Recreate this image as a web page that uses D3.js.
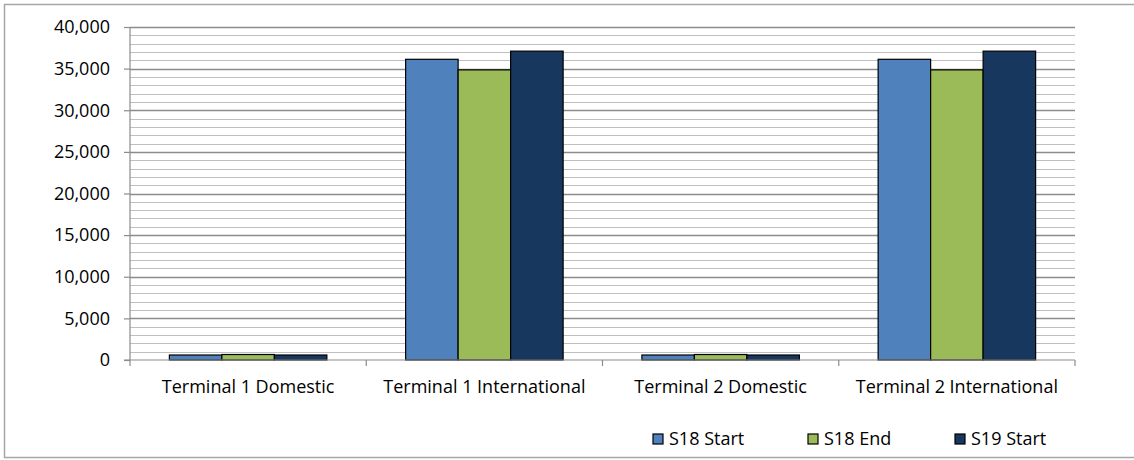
<!DOCTYPE html>
<html>
<head>
<meta charset="utf-8">
<script src="https://cdn.jsdelivr.net/npm/d3@7"></script>
<style>
  body { margin: 0; background: #fff; }
  text { font-family: "Open Sans", sans-serif; fill: #000; }
</style>
</head>
<body>
<div id="chart"></div>
<script>
let categories = ["Terminal 1 Domestic", "Terminal 1 International", "Terminal 2 Domestic", "Terminal 2 International"];
let seriesNames = ["S18 Start", "S18 End", "S19 Start"];
let s18Start = [600, 36120, 600, 36120];
let s18End = [660, 34850, 660, 34850];
let s19Start = [600, 37100, 600, 37100];
let yTicks = [0, 5000, 10000, 15000, 20000, 25000, 30000, 35000, 40000];
let colors = ["#4f81bd", "#9bbb59", "#17375e"];

let width = 1134, height = 460;
let plot = { left: 130, right: 1075, top: 27, bottom: 360 };

let svg = d3.select("#chart").append("svg")
    .attr("width", width)
    .attr("height", height);

// outer chart frame (partly off-page on the right)
svg.append("rect")
    .attr("x", 4.5).attr("y", 4.5)
    .attr("width", 1140).attr("height", 453)
    .attr("fill", "none")
    .attr("stroke", "#a6a6a6")
    .attr("stroke-width", 1.5);

let y = d3.scaleLinear().domain([0, 40000]).range([plot.bottom, plot.top]);
let x0 = d3.scaleBand().domain(categories).range([plot.left, plot.right]);
let x1 = d3.scaleBand().domain(seriesNames)
    .range([0, x0.bandwidth()])
    .paddingOuter(0.75);

// minor grid every 1000
let grid = svg.append("g").attr("class", "grid");
grid.selectAll("line.minor")
    .data(d3.range(1000, 40001, 1000).filter(d => d % 5000 !== 0))
    .enter().append("line")
    .attr("x1", plot.left).attr("x2", plot.right)
    .attr("y1", d => Math.round(y(d)) + 0.5).attr("y2", d => Math.round(y(d)) + 0.5)
    .attr("stroke", "#bfbfbf").attr("stroke-width", 1.2);
grid.selectAll("line.major")
    .data(yTicks.filter(d => d > 0))
    .enter().append("line")
    .attr("x1", plot.left).attr("x2", plot.right)
    .attr("y1", d => Math.round(y(d)) + 0.5).attr("y2", d => Math.round(y(d)) + 0.5)
    .attr("stroke", "#8c8c8c").attr("stroke-width", 1.4);

// y axis
let yAxis = svg.append("g")
    .attr("transform", "translate(" + plot.left + ",0)")
    .call(d3.axisLeft(y).tickValues(yTicks).tickSize(6).tickPadding(14)
        .tickFormat(d3.format(",")));
yAxis.select(".domain").attr("stroke", "#8c8c8c").attr("stroke-width", 1.2)
    .attr("d", "M0," + plot.top + "V" + plot.bottom);
yAxis.selectAll(".tick line").attr("stroke", "#8c8c8c").attr("stroke-width", 1.2);
yAxis.selectAll(".tick text").style("font-size", "18px").style("font-family", "'Open Sans', sans-serif");

// bars
let data = categories.map((c, i) => ({ cat: c, vals: [s18Start[i], s18End[i], s19Start[i]] }));
let groups = svg.selectAll("g.cat").data(data).enter().append("g")
    .attr("class", "cat")
    .attr("transform", d => "translate(" + x0(d.cat) + ",0)");
groups.selectAll("rect")
    .data(d => d.vals.map((v, i) => ({ name: seriesNames[i], v: v, i: i })))
    .enter().append("rect")
    .attr("x", d => x1(d.name))
    .attr("y", d => y(d.v))
    .attr("width", x1.bandwidth())
    .attr("height", d => y(0) - y(d.v))
    .attr("fill", d => colors[d.i])
    .attr("stroke", "#000")
    .attr("stroke-width", 1.2);

// x axis
let xAxis = svg.append("g").attr("transform", "translate(0," + plot.bottom + ")");
xAxis.append("line")
    .attr("x1", plot.left - 6).attr("x2", plot.right)
    .attr("stroke", "#8c8c8c").attr("stroke-width", 1.2);
xAxis.selectAll("line.tk")
    .data(d3.range(0, categories.length + 1))
    .enter().append("line")
    .attr("x1", i => plot.left + i * x0.bandwidth())
    .attr("x2", i => plot.left + i * x0.bandwidth())
    .attr("y1", 0).attr("y2", 6)
    .attr("stroke", "#8c8c8c").attr("stroke-width", 1.2);
xAxis.selectAll("text")
    .data(categories)
    .enter().append("text")
    .attr("x", d => x0(d) + x0.bandwidth() / 2)
    .attr("y", 33)
    .attr("text-anchor", "middle")
    .style("font-size", "18px")
    .text(d => d);

// legend
let legendX = [653, 808, 955];
let legend = svg.selectAll("g.legend").data(seriesNames).enter().append("g")
    .attr("class", "legend")
    .attr("transform", (d, i) => "translate(" + legendX[i] + ",434)");
legend.append("rect")
    .attr("width", 10).attr("height", 10)
    .attr("fill", (d, i) => colors[i])
    .attr("stroke", "#000").attr("stroke-width", 1.2);
legend.append("text")
    .attr("x", 16).attr("y", 11)
    .style("font-size", "18px")
    .text(d => d);
</script>
</body>
</html>
